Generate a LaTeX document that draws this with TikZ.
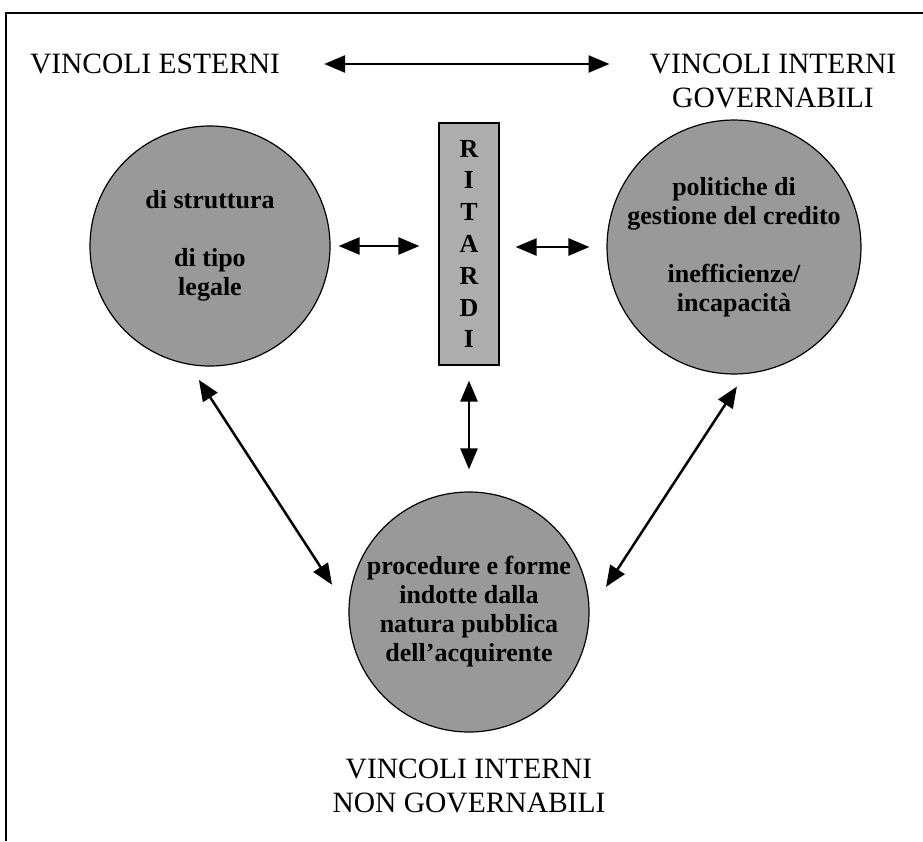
\documentclass[tikz,border=0pt]{standalone}
\usepackage{fontspec}
\setmainfont{Liberation Serif}
\usetikzlibrary{arrows.meta}
\begin{document}
\begin{tikzpicture}[x=1pt,y=-1pt,
  caption/.style={font=\fontsize{29.5}{34}\selectfont, align=center, inner sep=0pt},
  blob/.style={circle, draw=black, line width=1.2pt, fill=black!40, minimum size=240pt,
    inner sep=0pt, align=center, font=\bfseries\fontsize{26}{29}\selectfont},
  column/.style={rectangle, draw=black, line width=1.2pt, fill=black!32, minimum width=60pt,
    minimum height=242pt, inner sep=0pt, align=center, font=\bfseries\fontsize{26}{31.8}\selectfont},
  dbl/.style={{Triangle[length=21pt,width=17pt]}-{Triangle[length=21pt,width=17pt]}, line width=2.5pt}]
\useasboundingbox (0,0) rectangle (923,841);

% frame
\draw[line width=1.4pt] (6,841) -- (6,13) -- (923,13);

% headings
\node[caption] (ext) at (155,64) {VINCOLI ESTERNI};
\node[caption] (gov) at (773,81) {VINCOLI INTERNI\\GOVERNABILI};
\node[caption] (ngov) at (469,786) {VINCOLI INTERNI\\NON GOVERNABILI};

% central column
\node[column] (rit) at (469,244) {R\\I\\T\\A\\R\\D\\I};

% the three groups of constraints
\node[blob] (lc) at (210,246) {di struttura\\[29pt]di tipo\\legale};
\node[blob] (rc) at (734,247) {politiche di\\gestione del credito\\[29pt]inefficienze/\\incapacità};
\node[blob] (bc) at (469,612) {procedure e forme\\indotte dalla\\natura pubblica\\dell'acquirente};

% links
\draw[dbl, shorten <=44pt, shorten >=40pt] (ext.east) -- (ext.east -| gov.west);
\draw[dbl, shorten <=8pt, shorten >=19pt] (lc.east) -- (lc.east -| rit.west);
\draw[dbl, shorten <=16pt, shorten >=17pt] (rit.east |- rc.west) -- (rc.west);
\draw[dbl, shorten <=15pt, shorten >=22pt] (rit.south) -- (bc.north);
\draw[dbl, shorten <=18pt, shorten >=30pt] (lc.-100) -- (bc.179);
\draw[dbl, shorten <=15pt, shorten >=30pt] (rc.-85) -- (bc.0);
\end{tikzpicture}
\end{document}
